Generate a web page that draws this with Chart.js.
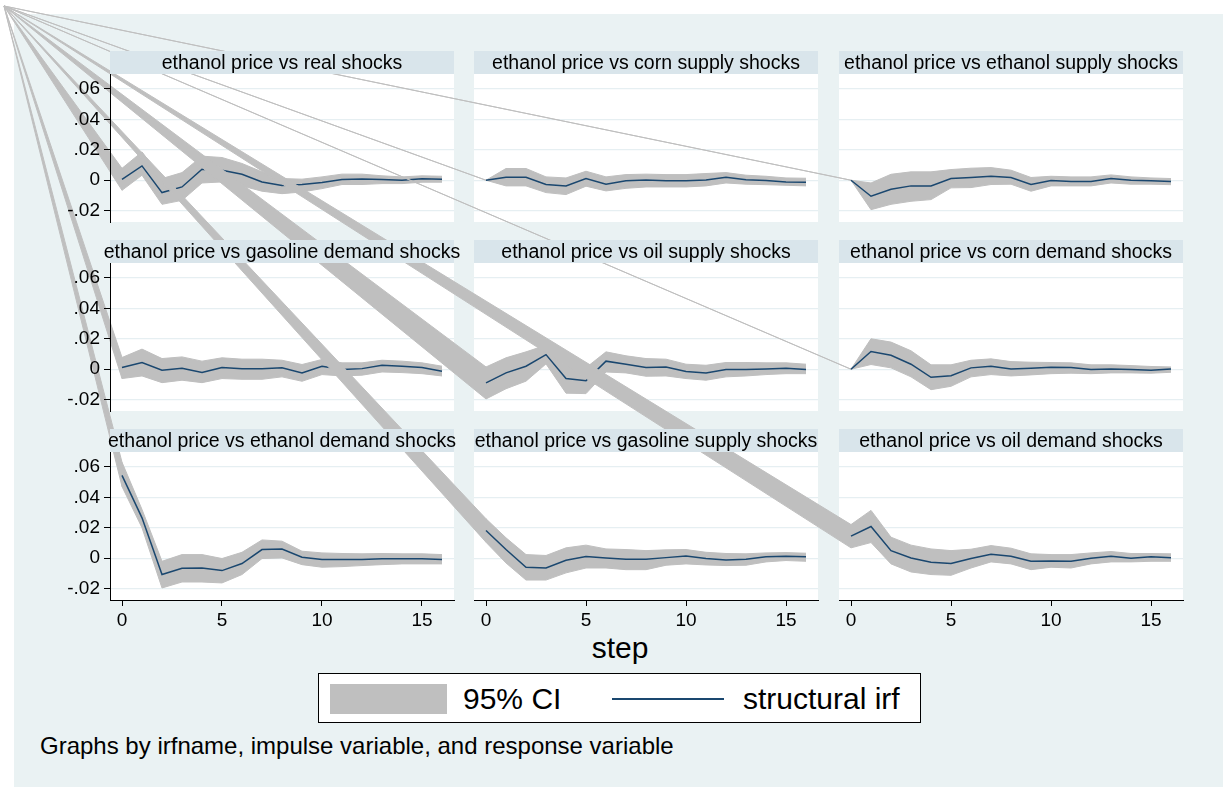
<!DOCTYPE html>
<html>
<head>
<meta charset="utf-8">
<script src="https://cdn.jsdelivr.net/npm/chart.js@4.4.1/dist/chart.umd.min.js"></script>
<style>
  html, body { margin: 0; padding: 0; background: #ffffff; }
  #page { position: relative; width: 1223px; height: 787px; overflow: hidden;
          font-family: "Liberation Sans", Arial, sans-serif; color: #000; }
  #bg { position: absolute; left: 14px; top: 14px; right: 0; bottom: 0; background: #EAF2F3; }
  canvas.layer { position: absolute; left: 0; top: 0; }
  .txt { position: absolute; white-space: nowrap; line-height: 1; }
  #legendBox { position: absolute; left: 318px; top: 673px; width: 601px; height: 48px;
               background: #ffffff; border: 1px solid #000; }
  #legendPatch { position: absolute; left: 330px; top: 684px; width: 117px; height: 30px; background: #BFBFBF; }
  #legendLine { position: absolute; left: 612px; top: 698px; width: 112px; height: 2px; background: #1A476F; }
</style>
</head>
<body>
<div id="page">
  <div id="bg"></div>
  <div class="txt" id="stepLabel" style="left:0;width:1240px;text-align:center;top:633px;font-size:30px;">step</div>
  <div id="legendBox"></div>
  <div id="legendPatch"></div>
  <div class="txt" style="left:463px;top:684px;font-size:30px;">95% CI</div>
  <div id="legendLine"></div>
  <div class="txt" style="left:743px;top:684px;font-size:30px;">structural irf</div>
  <div class="txt" style="left:40px;top:734px;font-size:24px;">Graphs by irfname, impulse variable, and response variable</div>
</div>
<script>
// Horizon steps and axis ticks
const STEPS = [0, 1, 2, 3, 4, 5, 6, 7, 8, 9, 10, 11, 12, 13, 14, 15, 16];
const X_TICKS = [0, 5, 10, 15];
const Y_TICKS = [-0.02, 0, 0.02, 0.04, 0.06];

// Panel titles, in drawing order (row by row)
const TITLES = [
  'ethanol price vs real shocks',
  'ethanol price vs corn supply shocks',
  'ethanol price vs ethanol supply shocks',
  'ethanol price vs gasoline demand shocks',
  'ethanol price vs oil supply shocks',
  'ethanol price vs corn demand shocks',
  'ethanol price vs ethanol demand shocks',
  'ethanol price vs gasoline supply shocks',
  'ethanol price vs oil demand shocks'
];

// Structural IRFs with lower / upper 95% bounds
const irfReal = [0.0005, 0.0094, -0.0081, -0.0044, 0.0072, 0.0066, 0.0039, -0.0011, -0.0035, -0.0028, -0.0015, 0.0005, 0.0008, 0.0005, 0.0000, 0.0010, 0.0007];
const loReal  = [-0.0066, 0.0033, -0.0158, -0.0132, -0.0018, -0.0011, -0.0037, -0.0072, -0.0088, -0.0077, -0.0055, -0.0028, -0.0028, -0.0022, -0.0022, -0.0013, -0.0013];
const hiReal  = [0.0078, 0.0186, 0.0011, 0.0050, 0.0158, 0.0149, 0.0110, 0.0055, 0.0011, 0.0007, 0.0022, 0.0040, 0.0040, 0.0029, 0.0022, 0.0029, 0.0026];

const irfCornSupply = [0, 0.0020, 0.0020, -0.0028, -0.0037, 0.0011, -0.0026, -0.0004, 0.0002, -0.0004, -0.0004, 0.0002, 0.0020, 0.0004, -0.0002, -0.0011, -0.0013];
const loCornSupply  = [0, -0.0037, -0.0037, -0.0081, -0.0094, -0.0039, -0.0070, -0.0053, -0.0044, -0.0044, -0.0044, -0.0037, -0.0018, -0.0026, -0.0029, -0.0033, -0.0037];
const hiCornSupply  = [0, 0.0077, 0.0077, 0.0022, 0.0015, 0.0059, 0.0022, 0.0037, 0.0040, 0.0037, 0.0037, 0.0044, 0.0050, 0.0033, 0.0026, 0.0015, 0.0013];

const irfEthSupply = [0, -0.0105, -0.0059, -0.0037, -0.0037, 0.0011, 0.0018, 0.0026, 0.0018, -0.0028, -0.0002, -0.0009, -0.0009, 0.0011, 0.0000, -0.0004, -0.0009];
const loEthSupply  = [0, -0.0193, -0.0158, -0.0138, -0.0127, -0.0050, -0.0048, -0.0028, -0.0026, -0.0072, -0.0037, -0.0037, -0.0037, -0.0018, -0.0026, -0.0026, -0.0029];
const hiEthSupply  = [0, -0.0018, 0.0039, 0.0055, 0.0055, 0.0070, 0.0079, 0.0083, 0.0066, 0.0018, 0.0026, 0.0022, 0.0022, 0.0035, 0.0022, 0.0015, 0.0011];

const irfGasDemand = [0.0011, 0.0044, -0.0007, 0.0007, -0.0022, 0.0011, 0.0004, 0.0004, 0.0009, -0.0024, 0.0020, -0.0002, 0.0004, 0.0026, 0.0020, 0.0011, -0.0013];
const loGasDemand  = [-0.0061, -0.0044, -0.0088, -0.0072, -0.0088, -0.0061, -0.0066, -0.0066, -0.0050, -0.0079, -0.0035, -0.0044, -0.0039, -0.0018, -0.0022, -0.0029, -0.0044];
const hiGasDemand  = [0.0077, 0.0132, 0.0070, 0.0081, 0.0053, 0.0075, 0.0066, 0.0066, 0.0059, 0.0031, 0.0064, 0.0042, 0.0042, 0.0059, 0.0053, 0.0042, 0.0020];

const irfOilSupply = [-0.0090, -0.0024, 0.0020, 0.0096, -0.0061, -0.0075, 0.0053, 0.0033, 0.0011, 0.0015, -0.0015, -0.0024, -0.0002, -0.0002, 0.0002, 0.0007, -0.0002];
const loOilSupply  = [-0.0195, -0.0128, -0.0078, 0.0035, -0.0157, -0.0160, -0.0018, -0.0024, -0.0046, -0.0044, -0.0061, -0.0072, -0.0050, -0.0044, -0.0035, -0.0029, -0.0029];
const hiOilSupply  = [0.0015, 0.0075, 0.0114, 0.0158, 0.0035, 0.0010, 0.0114, 0.0088, 0.0070, 0.0066, 0.0033, 0.0026, 0.0044, 0.0044, 0.0042, 0.0042, 0.0033];

const irfCornDemand = [0, 0.0116, 0.0092, 0.0033, -0.0053, -0.0042, 0.0009, 0.0020, 0.0002, 0.0007, 0.0013, 0.0011, -0.0002, 0.0002, -0.0002, -0.0007, 0.0002];
const loCornDemand  = [0, 0.0031, 0.0009, -0.0050, -0.0134, -0.0112, -0.0050, -0.0035, -0.0044, -0.0037, -0.0029, -0.0026, -0.0029, -0.0024, -0.0024, -0.0026, -0.0020];
const hiCornDemand  = [0, 0.0200, 0.0178, 0.0121, 0.0029, 0.0029, 0.0059, 0.0068, 0.0050, 0.0046, 0.0044, 0.0042, 0.0029, 0.0029, 0.0024, 0.0018, 0.0015];

const irfEthDemand = [0.0544, 0.0265, -0.0107, -0.0066, -0.0064, -0.0081, -0.0035, 0.0057, 0.0061, 0.0007, -0.0009, -0.0009, -0.0009, -0.0004, -0.0004, -0.0004, -0.0009];
const loEthDemand  = [0.0470, 0.0200, -0.0195, -0.0156, -0.0156, -0.0162, -0.0107, -0.0002, 0.0002, -0.0042, -0.0059, -0.0055, -0.0048, -0.0042, -0.0037, -0.0037, -0.0037];
const hiEthDemand  = [0.0630, 0.0320, -0.0020, 0.0024, 0.0024, -0.0002, 0.0039, 0.0120, 0.0112, 0.0046, 0.0035, 0.0031, 0.0029, 0.0031, 0.0029, 0.0029, 0.0024];

const irfGasSupply = [0.0182, 0.0057, -0.0059, -0.0064, -0.0013, 0.0011, 0.0002, -0.0007, -0.0007, 0.0004, 0.0015, -0.0002, -0.0011, -0.0007, 0.0009, 0.0013, 0.0009];
const loGasSupply  = [0.0105, -0.0031, -0.0143, -0.0143, -0.0096, -0.0064, -0.0064, -0.0075, -0.0075, -0.0046, -0.0037, -0.0044, -0.0048, -0.0046, -0.0024, -0.0015, -0.0020];
const hiGasSupply  = [0.0259, 0.0134, 0.0024, 0.0018, 0.0068, 0.0086, 0.0061, 0.0057, 0.0050, 0.0055, 0.0057, 0.0039, 0.0031, 0.0029, 0.0035, 0.0037, 0.0033];

const irfOilDemand = [0.0145, 0.0208, 0.0050, 0.0002, -0.0026, -0.0035, -0.0002, 0.0026, 0.0013, -0.0020, -0.0018, -0.0020, 0.0000, 0.0013, 0.0000, 0.0009, 0.0004];
const loOilDemand  = [0.0068, 0.0103, -0.0037, -0.0090, -0.0107, -0.0112, -0.0064, -0.0024, -0.0037, -0.0075, -0.0059, -0.0064, -0.0037, -0.0024, -0.0024, -0.0020, -0.0020];
const hiOilDemand  = [0.0221, 0.0314, 0.0138, 0.0086, 0.0061, 0.0050, 0.0059, 0.0083, 0.0066, 0.0029, 0.0024, 0.0024, 0.0035, 0.0044, 0.0031, 0.0031, 0.0029];

const PANELS = [
  [irfReal, loReal, hiReal],
  [irfCornSupply, loCornSupply, hiCornSupply],
  [irfEthSupply, loEthSupply, hiEthSupply],
  [irfGasDemand, loGasDemand, hiGasDemand],
  [irfOilSupply, loOilSupply, hiOilSupply],
  [irfCornDemand, loCornDemand, hiCornDemand],
  [irfEthDemand, loEthDemand, hiEthDemand],
  [irfGasSupply, loGasSupply, hiGasSupply],
  [irfOilDemand, loOilDemand, hiOilDemand]
];

// Page geometry
const PAGE_W = 1223, PAGE_H = 787;
const COL_LEFT = [110, 474, 839];
const ROW_TOP = [74, 263, 452];
const PLOT_W = 344, PLOT_H = 148;
const STRIP_H = 23;
const Y_AXIS_W = 50, X_AXIS_H = 34;
const X_MIN = -0.6, X_MAX = 16.6;
const Y_MIN = -0.0274, Y_MAX = 0.0697;
// the area paths start from the page corner before reaching step 0
const PATH_ORIGIN = { x: 4, y: 6 };

const CI_COLOR = '#BFBFBF';
const IRF_COLOR = '#1A476F';
const STRIP_COLOR = '#D9E5EB';
const GRID_COLOR = '#E6EFF2';
const FONT = '"Liberation Sans", Arial, sans-serif';

Chart.defaults.font.family = FONT;
Chart.defaults.color = '#000';

function fmtY(v) {
  if (Math.abs(v) < 1e-9) return '0';
  const s = Math.abs(v).toFixed(2).replace(/^0/, '');
  return (v < 0 ? '-' : '') + s;
}

// White plot region under the data, plus the CI area's closing edge
const plotLayer = {
  id: 'plotLayer',
  beforeDraw(chart) {
    const { ctx, chartArea: a } = chart;
    ctx.save();
    ctx.fillStyle = '#ffffff';
    ctx.fillRect(a.left, a.top, a.right - a.left, a.bottom - a.top);
    ctx.restore();
  },
  beforeDatasetsDraw(chart) {
    const { ctx } = chart;
    const xs = chart.scales.x, ys = chart.scales.y;
    const hi0 = chart.data.datasets[1].data[0];
    const lo0 = chart.data.datasets[2].data[0];
    ctx.save();
    ctx.beginPath();
    ctx.moveTo(PATH_ORIGIN.x, PATH_ORIGIN.y);
    ctx.lineTo(xs.getPixelForValue(hi0.x), ys.getPixelForValue(hi0.y));
    ctx.lineTo(xs.getPixelForValue(lo0.x), ys.getPixelForValue(lo0.y));
    ctx.closePath();
    ctx.fillStyle = CI_COLOR;
    ctx.strokeStyle = CI_COLOR;
    ctx.lineWidth = 1;
    ctx.fill();
    ctx.stroke();
    ctx.restore();
  }
};

// Title strip above each plot region
const stripLayer = {
  id: 'stripLayer',
  afterDraw(chart, args, opts) {
    const { ctx, chartArea: a } = chart;
    ctx.save();
    ctx.fillStyle = STRIP_COLOR;
    ctx.fillRect(a.left, a.top - STRIP_H, a.right - a.left, STRIP_H);
    ctx.fillStyle = '#000';
    ctx.font = '19.5px ' + FONT;
    ctx.textAlign = 'center';
    ctx.textBaseline = 'middle';
    ctx.fillText(opts.title, (a.left + a.right) / 2, a.top - STRIP_H / 2 + 1);
    ctx.restore();
  }
};

const page = document.getElementById('page');
function addCanvas() {
  const c = document.createElement('canvas');
  c.className = 'layer';
  c.width = PAGE_W;
  c.height = PAGE_H;
  page.appendChild(c);
  return c;
}

const baseOptions = () => ({
  responsive: false,
  maintainAspectRatio: false,
  devicePixelRatio: 1,
  animation: false,
  events: [],
  plugins: { legend: { display: false }, tooltip: { enabled: false } }
});

const pts = arr => arr.map((v, i) => ({ x: STEPS[i], y: v }));

// Data layers: drawn panel by panel, later panels over earlier ones
PANELS.forEach(([irf, lo, hi], idx) => {
  const col = idx % 3, row = Math.floor(idx / 3);
  const left = COL_LEFT[col], top = ROW_TOP[row];
  const opts = baseOptions();
  opts.layout = { padding: { left: left, top: top,
                             right: PAGE_W - (left + PLOT_W),
                             bottom: PAGE_H - (top + PLOT_H) } };
  opts.scales = {
    x: { type: 'linear', min: X_MIN, max: X_MAX, display: false },
    y: {
      type: 'linear', min: Y_MIN, max: Y_MAX,
      afterBuildTicks: s => { s.ticks = Y_TICKS.map(v => ({ value: v })); },
      afterFit: s => { s.width = 0; },
      grid: { color: GRID_COLOR, lineWidth: 1.2, drawTicks: false },
      border: { display: false },
      ticks: { display: false }
    }
  };
  new Chart(addCanvas(), {
    type: 'line',
    data: {
      datasets: [
        { label: 'structural irf', data: pts(irf), order: 0, fill: false,
          borderColor: IRF_COLOR, borderWidth: 1.5, pointRadius: 0, tension: 0 },
        { label: '95% CI', data: pts(hi), order: 1, fill: '+1', backgroundColor: CI_COLOR,
          borderColor: CI_COLOR, borderWidth: 1, pointRadius: 0, tension: 0 },
        { label: 'lower', data: pts(lo), order: 2, fill: false, backgroundColor: CI_COLOR,
          borderColor: CI_COLOR, borderWidth: 1, pointRadius: 0, tension: 0 }
      ]
    },
    options: opts,
    plugins: [plotLayer]
  });
});

// Axis and title layers on top
PANELS.forEach((p, idx) => {
  const col = idx % 3, row = Math.floor(idx / 3);
  const left = COL_LEFT[col], top = ROW_TOP[row];
  const yW = col === 0 ? Y_AXIS_W : 0;
  const xH = row === 2 ? X_AXIS_H : 0;
  const opts = baseOptions();
  opts.plugins.stripLayer = { title: TITLES[idx] };
  opts.layout = { padding: { left: left - yW, top: top,
                             right: PAGE_W - (left + PLOT_W),
                             bottom: PAGE_H - (top + PLOT_H) - xH } };
  opts.scales = {
    x: {
      type: 'linear', min: X_MIN, max: X_MAX,
      display: row === 2,
      afterBuildTicks: s => { s.ticks = X_TICKS.map(v => ({ value: v })); },
      afterFit: s => { s.height = xH; },
      grid: { display: true, drawOnChartArea: false, drawTicks: true, tickLength: 6,
              tickColor: '#000', tickWidth: 1 },
      border: { display: true, color: '#000', width: 1 },
      ticks: { color: '#000', font: { size: 19 }, padding: 3, maxRotation: 0,
               autoSkip: false, callback: v => String(v) }
    },
    y: {
      type: 'linear', min: Y_MIN, max: Y_MAX,
      display: col === 0,
      afterBuildTicks: s => { s.ticks = Y_TICKS.map(v => ({ value: v })); },
      afterFit: s => { s.width = yW; },
      grid: { display: true, drawOnChartArea: false, drawTicks: true, tickLength: 6,
              tickColor: '#000', tickWidth: 1 },
      border: { display: true, color: '#000', width: 1 },
      ticks: { color: '#000', font: { size: 19 }, padding: 4, callback: v => fmtY(v) }
    }
  };
  new Chart(addCanvas(), {
    type: 'line',
    data: { datasets: [] },
    options: opts,
    plugins: [stripLayer]
  });
});
</script>
</body>
</html>
